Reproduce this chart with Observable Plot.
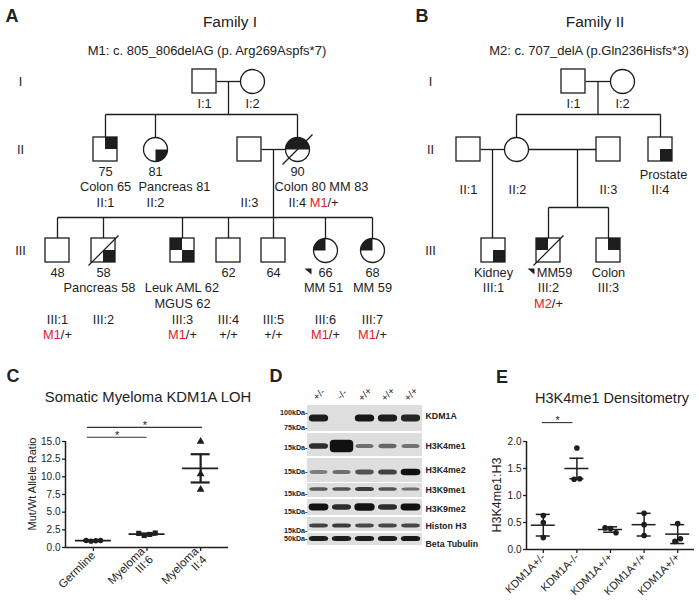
<!DOCTYPE html>
<html>
<head>
<meta charset="utf-8">
<script src="https://cdn.jsdelivr.net/npm/d3@7"></script>
<script src="https://cdn.jsdelivr.net/npm/@observablehq/plot@0.6"></script>
<style>
  html, body { margin: 0; padding: 0; background: #fff; }
  #fig { position: relative; width: 699px; height: 601px; overflow: hidden; background: #fff;
         font-family: "Liberation Sans", Arial, Helvetica, sans-serif; color: #222; }
  #fig > svg { position: absolute; max-width: none !important; background: transparent !important; }
  .lbl { position: absolute; white-space: nowrap; line-height: 1; }
</style>
</head>
<body>
<div id="fig"></div>
<script>
// ======================= DATA =======================
// Panel A – Family I pedigree
const fam1Title = "Family I";
const fam1Mutation = "M1: c. 805_806delAG (p. Arg269Aspfs*7)";
const fam1Ids      = ["I:1","I:2","II:1","II:2","II:3","II:4","III:1","III:2","III:3","III:4","III:5","III:6","III:7"];
const fam1Sex      = ["M","F","M","F","M","F","M","M","M","M","M","F","F"];
const fam1Gen      = [1,1,2,2,2,2,3,3,3,3,3,3,3];
const fam1Affected = ["","","ur","lr","","top","","lr","ul lr","","","ul","ul"];
const fam1Deceased = ["II:4","III:2"];
const fam1Proband  = ["III:6"];
const fam1Unions   = [["I:1","I:2",["II:1","II:2","II:4"]],
                      ["II:3","II:4",["III:1","III:2","III:3","III:4","III:5","III:6","III:7"]]];
const fam1Labels = [
  ["I:1",0,"I:1"],["I:2",0,"I:2"],
  ["II:1",0,"75"],["II:1",1,"Colon 65"],["II:1",2,"II:1"],
  ["II:2",0,"81"],["II:2",1,"Pancreas 81"],["II:2",2,"II:2"],
  ["II:3",2,"II:3"],
  ["II:4",0,"90"],["II:4",1,"Colon 80 MM 83"],["II:4",2,"II:4 M1/+"],
  ["III:1",0,"48"],["III:1",3.05,"III:1"],["III:1",4.05,"M1/+"],
  ["III:2",0,"58"],["III:2",1,"Pancreas 58"],["III:2",3.05,"III:2"],
  ["III:3",1,"Leuk AML 62"],["III:3",2,"MGUS 62"],["III:3",3.05,"III:3"],["III:3",4.05,"M1/+"],
  ["III:4",0,"62"],["III:4",3.05,"III:4"],["III:4",4.05,"+/+"],
  ["III:5",0,"64"],["III:5",3.05,"III:5"],["III:5",4.05,"+/+"],
  ["III:6",0,"66"],["III:6",1,"MM 51"],["III:6",3.05,"III:6"],["III:6",4.05,"M1/+"],
  ["III:7",0,"68"],["III:7",1,"MM 59"],["III:7",3.05,"III:7"],["III:7",4.05,"M1/+"]
];

// Panel B – Family II pedigree
const fam2Title = "Family II";
const fam2Mutation = "M2: c. 707_delA (p.Gln236Hisfs*3)";
const fam2Ids      = ["I:1","I:2","II:1","II:2","II:3","II:4","III:1","III:2","III:3"];
const fam2Sex      = ["M","F","M","F","M","M","M","M","M"];
const fam2Gen      = [1,1,2,2,2,2,3,3,3];
const fam2Affected = ["","","","","","lr","lr","ul","ur"];
const fam2Deceased = ["III:2"];
const fam2Proband  = ["III:2"];
const fam2Unions   = [["I:1","I:2",["II:2","II:4"]],
                      ["II:1","II:2",["III:1"]],
                      ["II:2","II:3",["III:2","III:3"]]];
const fam2Labels = [
  ["I:1",0,"I:1"],["I:2",0,"I:2"],
  ["II:1",1.2,"II:1"],["II:2",1.2,"II:2"],["II:3",1.2,"II:3"],["II:4",0.2,"Prostate"],["II:4",1.2,"II:4"],
  ["III:1",0,"Kidney"],["III:1",1,"III:1"],
  ["III:2",0,"MM59"],["III:2",1,"III:2"],["III:2",2,"M2/+"],
  ["III:3",0,"Colon"],["III:3",1,"III:3"]
];
const genNames = ["I","II","III"];

// Panel C
const cTitle = "Somatic Myeloma KDM1A LOH";
const cYLabel = "Mut/Wt Allele Ratio";
const cGroups = ["Germline", "Myeloma\nIII:6", "Myeloma\nII:4"];
const cGermline    = [1.0, 0.9, 0.95, 1.0];
const cMyelomaIII6 = [2.0, 1.7, 1.85, 2.05];
const cMyelomaII4  = [15.0, 10.4, 8.2];
const cMean = [0.96, 1.9, 11.2];
const cErr  = [0.03, 0.08, 2.0];
const cYTicks = [0, 2.5, 5, 7.5, 10, 12.5, 15];
const cSig = [[0, 1, "*"], [0, 2, "*"]];

// Panel D – western blot
const blotLanes = ["+/-", "-/-", "+/+", "+/+", "+/+"];
const blotRows  = ["KDM1A", "H3K4me1", "H3K4me2", "H3K9me1", "H3K9me2", "Histon H3", "Beta Tubulin"];
const bandKDM1A   = [1.0, 0.0, 1.05, 1.0, 0.95];
const bandH3K4me1 = [0.9, 3.0, 0.45, 0.5, 0.42];
const bandH3K4me2 = [0.35, 0.45, 0.65, 0.75, 1.15];
const bandH3K9me1 = [0.6, 0.65, 0.8, 0.65, 0.45];
const bandH3K9me2 = [1.25, 0.9, 1.45, 0.9, 1.3];
const bandHistonH3 = [0.75, 0.8, 0.7, 0.72, 0.72];
const bandBetaTub  = [1.0, 1.0, 1.0, 1.0, 1.05];
const blotMarkers = ["100kDa-", "75kDa-", "15kDa-", "15kDa-", "15kDa-", "15kDa-", "15kDa-", "50kDa-"];

// Panel E
const eTitle = "H3K4me1 Densitometry";
const eYLabel = "H3K4me1:H3";
const eGroups = ["KDM1A+/-", "KDM1A-/-", "KDM1A+/+", "KDM1A+/+", "KDM1A+/+"];
const eHet  = [0.63, 0.5, 0.22];
const eNull = [1.88, 1.3, 1.31];
const eWt1  = [0.4, 0.39, 0.31];
const eWt2  = [0.67, 0.46, 0.26];
const eWt3  = [0.48, 0.15, 0.2];
const eMean = [0.45, 1.5, 0.37, 0.46, 0.285];
const eErr  = [0.2, 0.19, 0.05, 0.21, 0.175];
const eYTicks = [0, 0.5, 1, 1.5, 2];
const eSig = [[0, 1, "*"]];

// ======================= LAYOUT / STYLE =======================
const FONT = '"Liberation Sans", Arial, Helvetica, sans-serif';
const INK = "#1e1e1e", RED = "#e3202a";
const PED = { S: 12, genY: [81, 149, 250], row0: 22, rowStep: 15.5, fontSize: 12.8, stroke: 1.3 };
const fam1Layout = {
  x: {"I:1":204,"I:2":252,"II:1":105,"II:2":155,"II:3":249,"II:4":297,
      "III:1":57,"III:2":103,"III:3":182,"III:4":228,"III:5":273,"III:6":325,"III:7":372},
  sibY: [114, 217], dropX: [null, null], genLabelX: 20,
  shift: {"II:2|Pancreas 81": 19, "II:4|Colon 80 MM 83": 24, "II:4|II:4 M1/+": 16, "III:2|Pancreas 58": -4, "III:6|MM 51": -2}
};
const fam2Layout = {
  x: {"I:1":573,"I:2":622,"II:1":468,"II:2":516,"II:3":608,"II:4":660,"III:1":493,"III:2":548,"III:3":608},
  sibY: [114, null, 207], dropX: [null, null, 577], genLabelX: 430,
  shift: {"III:2|MM59": 6, "II:4|Prostate": 3, "II:2|II:2": 1}
};

const fig = document.getElementById("fig");
const ctx = document.createElement("canvas").getContext("2d");
function textW(t, size, weight = "normal") { ctx.font = `${weight} ${size}px ${FONT}`; return ctx.measureText(t).width; }
function htmlLabel(text, x, y, o = {}) {
  const d = document.createElement("div");
  d.className = "lbl"; d.textContent = text;
  d.style.left = x + "px"; d.style.top = y + "px";
  d.style.fontSize = (o.size || 12) + "px";
  d.style.fontWeight = o.bold ? "bold" : "normal";
  d.style.color = o.color || "#222";
  d.style.transform = "translate(-50%,-50%)" + (o.rotate ? ` rotate(${o.rotate}deg)` : "");
  fig.appendChild(d);
}
function placeSvg(svg, left, top) { svg.style.left = left + "px"; svg.style.top = top + "px"; fig.appendChild(svg); }

// ---------- pedigrees ----------
function buildFamily(ids, sex, gen, affected, deceased, probands, unions, labels, L) {
  const S = PED.S;
  const P = new Map(ids.map((id, i) => [id, {id, sex: sex[i], x: L.x[id], y: PED.genY[gen[i] - 1], aff: affected[i]}]));
  const people = [...P.values()];
  const out = {squares: people.filter(p => p.sex === "M"), circles: people.filter(p => p.sex === "F"),
               quadRects: [], quadPolys: [], slashes: [], arrows: [], segs: [], texts: [], genTexts: []};
  const arcs = {ur: [-90, 0], lr: [0, 90], ll: [90, 180], ul: [180, 270], top: [180, 360]};
  for (const p of people) {
    for (const q of p.aff.split(" ").filter(Boolean)) {
      if (p.sex === "M") {
        const left = q[1] === "l", top = q[0] === "u";
        out.quadRects.push({x1: left ? p.x - S : p.x, x2: left ? p.x : p.x + S, y1: top ? p.y - S : p.y, y2: top ? p.y : p.y + S});
      } else {
        const [a0, a1] = arcs[q], key = p.id + q + ids.length;
        out.quadPolys.push({key, x: p.x, y: p.y});
        for (let a = a0; a <= a1; a += 5) out.quadPolys.push({key, x: p.x + S * Math.cos(a * Math.PI / 180), y: p.y + S * Math.sin(a * Math.PI / 180)});
      }
    }
  }
  for (const id of deceased) { const p = P.get(id); out.slashes.push({x1: p.x - 15, y1: p.y + 15, x2: p.x + 15, y2: p.y - 15}); }
  for (const id of probands) {
    const p = P.get(id), key = "arrow" + id + ids.length;
    out.arrows.push({key, x: p.x - 21, y: p.y + 18}, {key, x: p.x - 14, y: p.y + 18}, {key, x: p.x - 14, y: p.y + 24});
  }
  unions.forEach(([a, b, kids], k) => {
    const A = P.get(a), B = P.get(b);
    const [l, r] = A.x < B.x ? [A, B] : [B, A];
    out.segs.push({x1: l.x + S, y1: l.y, x2: r.x - S, y2: r.y});
    const dx = L.dropX[k] ?? (l.x + r.x) / 2;
    const K = kids.map(id => P.get(id));
    const sy = L.sibY[k];
    if (sy == null) { out.segs.push({x1: dx, y1: l.y, x2: dx, y2: K[0].y - S}); return; }
    out.segs.push({x1: dx, y1: l.y, x2: dx, y2: sy});
    const xs = K.map(c => c.x).concat([dx]);
    out.segs.push({x1: Math.min(...xs), y1: sy, x2: Math.max(...xs), y2: sy});
    for (const c of K) out.segs.push({x1: c.x, y1: sy, x2: c.x, y2: c.y - S});
  });
  for (const [id, row, text] of labels) {
    const p = P.get(id);
    const cx = p.x + (L.shift[id + "|" + text] || 0);
    const y = p.y + PED.row0 + PED.rowStep * row;
    const parts = text.split(/(M[12])(?=\/)/).filter(s => s !== "");
    const widths = parts.map(s => textW(s, PED.fontSize));
    let x0 = cx - d3.sum(widths) / 2;
    parts.forEach((s, i) => { out.texts.push({x: x0, y, text: s, color: /^M[12]$/.test(s) ? RED : INK}); x0 += widths[i]; });
  }
  genNames.forEach((g, i) => out.genTexts.push({x: L.genLabelX, y: PED.genY[i], text: g}));
  return out;
}
const f1 = buildFamily(fam1Ids, fam1Sex, fam1Gen, fam1Affected, fam1Deceased, fam1Proband, fam1Unions, fam1Labels, fam1Layout);
const f2 = buildFamily(fam2Ids, fam2Sex, fam2Gen, fam2Affected, fam2Deceased, fam2Proband, fam2Unions, fam2Labels, fam2Layout);
const all = key => [...f1[key], ...f2[key]];
const S = PED.S;
const pedPlot = Plot.plot({
  width: 699, height: 345, margin: 0,
  x: {domain: [0, 699], range: [0, 699], axis: null},
  y: {domain: [0, 345], range: [0, 345], axis: null},
  color: {type: "identity"},
  style: {fontFamily: FONT, background: "transparent", overflow: "visible"},
  marks: [
    Plot.link(all("segs"), {x1: "x1", y1: "y1", x2: "x2", y2: "y2", stroke: INK, strokeWidth: PED.stroke}),
    Plot.rect(all("squares"), {x1: d => d.x - S, x2: d => d.x + S, y1: d => d.y - S, y2: d => d.y + S, fill: "white"}),
    Plot.dot(all("circles"), {x: "x", y: "y", r: S, fill: "white"}),
    Plot.rect(all("quadRects"), {x1: "x1", x2: "x2", y1: "y1", y2: "y2", fill: INK}),
    Plot.line(all("quadPolys"), {x: "x", y: "y", z: "key", fill: INK, stroke: "none"}),
    Plot.rect(all("squares"), {x1: d => d.x - S, x2: d => d.x + S, y1: d => d.y - S, y2: d => d.y + S, fill: "none", stroke: INK, strokeWidth: PED.stroke}),
    Plot.dot(all("circles"), {x: "x", y: "y", r: S, fill: "none", stroke: INK, strokeWidth: PED.stroke}),
    Plot.link(all("slashes"), {x1: "x1", y1: "y1", x2: "x2", y2: "y2", stroke: INK, strokeWidth: 1.2}),
    Plot.line(all("arrows"), {x: "x", y: "y", z: "key", fill: INK, stroke: "none"}),
    Plot.text(all("texts"), {x: "x", y: "y", text: "text", fill: d => d.color, textAnchor: "start", fontSize: PED.fontSize}),
    Plot.text(all("genTexts"), {x: "x", y: "y", text: "text", fill: INK, fontSize: PED.fontSize})
  ]
});
placeSvg(pedPlot, 0, 0);

// ---------- helper for scatter spreading ----------
function spread(values, group, pxY, pxX, gap, thresh) {
  const order = values.map((v, i) => i).sort((a, b) => values[a] - values[b]);
  const clusters = []; let cur = [order[0]];
  for (let k = 1; k < order.length; k++) {
    if ((values[order[k]] - values[order[k - 1]]) * pxY < thresh) cur.push(order[k]);
    else { clusters.push(cur); cur = [order[k]]; }
  }
  clusters.push(cur);
  const pts = values.map(v => ({g: group, v, x: group}));
  for (const c of clusters) { c.sort((a, b) => a - b); c.forEach((i, k) => { pts[i].x = group + (k - (c.length - 1) / 2) * gap / pxX; }); }
  return pts;
}

// ---------- Panel C ----------
{
  const W = 240, H = 221, mL = 65, mR = 12, mT = 61, mB = 54;
  const xd = [-0.52, 2.52], yMax = 15;
  const pxX = (W - mL - mR) / (xd[1] - xd[0]), pxY = (H - mT - mB) / yMax;
  const stats = cMean.map((m, g) => ({g, m, e: cErr[g]}));
  const pts = [spread(cGermline, 0, pxY, pxX, 4.8, 5), spread(cMyelomaIII6, 1, pxY, pxX, 5.5, 5), spread(cMyelomaII4, 2, pxY, pxX, 5.5, 5)];
  const sig = cSig.map(([a, b, s]) => ({a, b, s})).sort((p, q) => (p.b - p.a) - (q.b - q.a))
    .map((d, k) => ({...d, y: yMax + 0.6 + 1.4 * k, x1: d.a - 6 / pxX, x2: d.b + (k ? 2 / pxX : 0)}));
  const meanHalf = 18 / pxX, capHalf = 9.5 / pxX;
  const p = Plot.plot({
    width: W, height: H, marginLeft: mL, marginRight: mR, marginTop: mT, marginBottom: mB,
    x: {domain: xd}, y: {domain: [0, yMax]},
    style: {fontFamily: FONT, background: "transparent", overflow: "visible", color: "#222"},
    marks: [
      Plot.axisY({ticks: cYTicks, tickFormat: d3.format(".1f"), tickSize: 3, tickPadding: 2, fontSize: 10, label: null, strokeWidth: 1.3}),
      Plot.axisX({ticks: [0, 1, 2], tickFormat: i => cGroups[i], tickRotate: -45, tickSize: 4, tickPadding: 2, fontSize: 11.5, label: null, strokeWidth: 1.3}),
      Plot.ruleY([0], {x1: xd[0], x2: xd[1], stroke: INK, strokeWidth: 1.5}),
      Plot.ruleX([xd[0]], {y1: 0, y2: yMax, stroke: INK, strokeWidth: 1.5}),
      Plot.ruleX(stats, {x: "g", y1: d => d.m - d.e, y2: d => d.m + d.e, stroke: INK, strokeWidth: 2.2}),
      Plot.ruleY(stats, {y: d => d.m - d.e, x1: d => d.g - capHalf, x2: d => d.g + capHalf, stroke: INK, strokeWidth: 2.2}),
      Plot.ruleY(stats, {y: d => d.m + d.e, x1: d => d.g - capHalf, x2: d => d.g + capHalf, stroke: INK, strokeWidth: 2.2}),
      Plot.ruleY(stats, {y: "m", x1: d => d.g - meanHalf, x2: d => d.g + meanHalf, stroke: INK, strokeWidth: 1.8}),
      Plot.dot(pts[0], {x: "x", y: "v", r: 2.7, fill: INK, symbol: "circle"}),
      Plot.dot(pts[1], {x: "x", y: "v", r: 2.9, fill: INK, symbol: "square"}),
      Plot.dot(pts[2], {x: "x", y: "v", r: 2.9, fill: INK, symbol: "triangle"}),
      Plot.ruleY(sig, {y: "y", x1: "x1", x2: "x2", stroke: "#333", strokeWidth: 1.1}),
      Plot.text(sig, {x: d => (d.x1 + d.x2) / 2, y: "y", text: "s", dy: -2, fontSize: 11, fill: "#222"})
    ]
  });
  placeSvg(p, 0, 380);
}

// ---------- Panel D (western blot) ----------
{
  const W = 250, H = 180;
  const bands = [bandKDM1A, bandH3K4me1, bandH3K4me2, bandH3K9me1, bandH3K9me2, bandHistonH3, bandBetaTub];
  // geometry: [top, bottom, band centre, band base thickness]
  const rowGeom = [[25, 51, 38, 7], [53, 76, 66, 6], [78, 102, 92, 6], [103, 117, 109, 4.5], [119, 135, 127, 6], [137, 151, 145.5, 4.5], [153, 165, 158.5, 5]];
  const rightLabelY = [36, 66, 90, 110, 129, 146, 164];
  const markerY = [32, 47, 67, 91, 113, 131, 150, 158];
  const rowData = blotRows.map((name, r) => ({name, top: rowGeom[r][0], bottom: rowGeom[r][1], ly: rightLabelY[r]}));
  const bandData = [];
  bands.forEach((arr, r) => arr.forEach((s, l) => {
    if (s <= 0) return;
    const h = rowGeom[r][3] * (0.45 + 0.55 * s), w = 0.74 + 0.1 * Math.min(s, 2.8);
    bandData.push({l, y1: rowGeom[r][2] - h / 2, y2: rowGeom[r][2] + h / 2, w, o: Math.min(1, 0.22 + 0.72 * s)});
  }));
  const p = Plot.plot({
    width: W, height: H, margin: 0,
    x: {domain: [-0.5, 4.5], range: [67, 182], axis: null},
    y: {domain: [0, H], range: [0, H], axis: null},
    style: {fontFamily: FONT, background: "transparent", overflow: "visible", color: "#222"},
    marks: [
      Plot.rect(rowData, {x1: -0.5, x2: 4.5, y1: "top", y2: "bottom", fill: "#dedede"}),
      Plot.rect(bandData, {x1: d => d.l - d.w / 2, x2: d => d.l + d.w / 2, y1: "y1", y2: "y2", rx: 4, fill: "#111", fillOpacity: "o", ariaLabel: "blotband"}),
      Plot.text(blotLanes, {x: (d, i) => i, y: 14, text: d => d, rotate: -45, fontSize: 10, fill: "#222"}),
      Plot.text(rowData, {x: 4.5, y: "ly", text: "name", textAnchor: "start", dx: 3, fontSize: 8.8, fontWeight: "bold", fill: "#222"}),
      Plot.text(blotMarkers, {x: -0.5, y: (d, i) => markerY[i], text: d => d, textAnchor: "end", fontSize: 7.2, fontWeight: "bold", fill: "#222"})
    ]
  });
  const svg = d3.select(p);
  svg.insert("defs", ":first-child").html('<filter id="blotblur" x="-30%" y="-80%" width="160%" height="260%"><feGaussianBlur stdDeviation="1.1"/></filter>');
  svg.selectAll('g[aria-label="blotband"]').attr("filter", "url(#blotblur)");
  placeSvg(p, 240, 380);
}

// ---------- Panel E ----------
{
  const W = 259, H = 221, mL = 86, mR = 5, mT = 61, mB = 52;
  const xd = [-0.5, 4.5], yMax = 2;
  const pxX = (W - mL - mR) / (xd[1] - xd[0]), pxY = (H - mT - mB) / yMax;
  const groups = [eHet, eNull, eWt1, eWt2, eWt3];
  const pts = groups.flatMap((vals, g) => spread(vals, g, pxY, pxX, 5.5, 5.5));
  const stats = eMean.map((m, g) => ({g, m, e: eErr[g]}));
  const sig = eSig.map(([a, b, s]) => ({s, y: yMax + 0.35, x1: a - 1 / pxX, x2: b - 4 / pxX}));
  const meanHalf = 12 / pxX, capHalf = 7 / pxX;
  const p = Plot.plot({
    width: W, height: H, marginLeft: mL, marginRight: mR, marginTop: mT, marginBottom: mB,
    x: {domain: xd}, y: {domain: [0, yMax]},
    style: {fontFamily: FONT, background: "transparent", overflow: "visible", color: "#222"},
    marks: [
      Plot.axisY({ticks: eYTicks, tickFormat: d3.format(".1f"), tickSize: 3, tickPadding: 2, fontSize: 10, label: null, strokeWidth: 1.3}),
      Plot.axisX({ticks: [0, 1, 2, 3, 4], tickFormat: i => eGroups[i], tickRotate: -45, tickSize: 4, tickPadding: 2, fontSize: 11, label: null, strokeWidth: 1.3}),
      Plot.ruleY([0], {x1: xd[0], x2: xd[1], stroke: INK, strokeWidth: 1.5}),
      Plot.ruleX([xd[0]], {y1: 0, y2: yMax, stroke: INK, strokeWidth: 1.5}),
      Plot.ruleX(stats, {x: "g", y1: d => d.m - d.e, y2: d => d.m + d.e, stroke: INK, strokeWidth: 1.5}),
      Plot.ruleY(stats, {y: d => d.m - d.e, x1: d => d.g - capHalf, x2: d => d.g + capHalf, stroke: INK, strokeWidth: 1.5}),
      Plot.ruleY(stats, {y: d => d.m + d.e, x1: d => d.g - capHalf, x2: d => d.g + capHalf, stroke: INK, strokeWidth: 1.5}),
      Plot.ruleY(stats, {y: "m", x1: d => d.g - meanHalf, x2: d => d.g + meanHalf, stroke: INK, strokeWidth: 1.5}),
      Plot.dot(pts, {x: "x", y: "v", r: 2.8, fill: INK}),
      Plot.ruleY(sig, {y: "y", x1: "x1", x2: "x2", stroke: "#333", strokeWidth: 1.1}),
      Plot.text(sig, {x: d => (d.x1 + d.x2) / 2, y: "y", text: "s", dy: -2, fontSize: 11, fill: "#222"})
    ]
  });
  placeSvg(p, 440, 380);
}

// ---------- titles, panel letters, axis titles ----------
htmlLabel("A", 12, 16, {size: 18, bold: true});
htmlLabel("B", 422, 16, {size: 18, bold: true});
htmlLabel("C", 13, 376, {size: 18, bold: true});
htmlLabel("D", 276, 376, {size: 18, bold: true});
htmlLabel("E", 502, 377, {size: 18, bold: true});
htmlLabel(fam1Title, 230, 22, {size: 15.5});
htmlLabel(fam1Mutation, 207, 50, {size: 13});
htmlLabel(fam2Title, 595, 22, {size: 15.5});
htmlLabel(fam2Mutation, 589, 50, {size: 13});
htmlLabel(cTitle, 148, 397, {size: 14.8});
htmlLabel(eTitle, 612, 398, {size: 14.5});
htmlLabel(cYLabel, 32, 484, {size: 11, rotate: -90});
htmlLabel(eYLabel, 497, 495, {size: 12.5, rotate: -90});
</script>
</body>
</html>
